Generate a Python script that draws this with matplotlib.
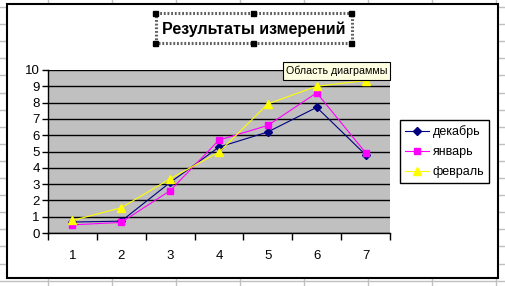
import matplotlib.pyplot as plt
import numpy as np
from matplotlib.patches import Rectangle

plt.rcParams["font.family"] = ["Liberation Sans", "DejaVu Sans"]

CATEGORIES = [1, 2, 3, 4, 5, 6, 7]
DEKABR = [0.67, 0.73, 3.1, 5.27, 6.2, 7.71, 4.8]
YANVAR = [0.5, 0.65, 2.6, 5.7, 6.6, 8.6, 4.93]
FEVRAL = [0.77, 1.55, 3.33, 4.96, 7.92, 9.0, 9.35]

SERIES = [
    ("декабрь", DEKABR, "#000080", "D", 4.5),
    ("январь", YANVAR, "#ff00ff", "s", 5),
    ("февраль", FEVRAL, "#ffff00", "^", 6),
]

W, H = 506, 286
fig = plt.figure(figsize=(W / 100, H / 100), dpi=100)
fig.patch.set_facecolor("white")

# background: spreadsheet cells + chart frame, in pixel coords
bg = fig.add_axes([0, 0, 1, 1])
bg.set_xlim(0, W)
bg.set_ylim(H, 0)
bg.axis("off")
for x in np.arange(48, W, 64):
    bg.plot([x, x], [0, H], color="#c0c0c0", lw=1, zorder=0)
for y in np.arange(7, H, 17.1):
    bg.plot([0, W], [y, y], color="#c0c0c0", lw=1, zorder=0)
bg.add_patch(Rectangle((7, 4), 491, 274, facecolor="white",
                       edgecolor="black", lw=1.5, zorder=1))

# title with selection box
bg.text(254, 29, "Результаты измерений", ha="center", va="center",
        fontsize=11.5, fontweight="bold", zorder=3)
bg.add_patch(Rectangle((156, 13), 196, 30, facecolor="none",
                       edgecolor="#606060", lw=2.2, linestyle=(0, (0.6, 0.6)),
                       zorder=3))
for hx, hy in [(156, 13), (254, 13), (352, 13), (156, 43), (254, 43),
               (352, 43)]:
    bg.add_patch(Rectangle((hx - 2.5, hy - 2.5), 5, 5, color="black",
                           zorder=4))

ax = fig.add_axes([48 / W, 1 - 233 / H, 342 / W, 163 / H], zorder=2)
ax.set_facecolor("#c0c0c0")
x = np.array(CATEGORIES)
for label, vals, color, marker, ms in SERIES:
    ax.plot(x, vals, color=color, lw=0.8, marker=marker, markersize=ms,
            markeredgecolor=color, markerfacecolor=color, label=label,
            zorder=3)

ax.set_xlim(0.5, 7.5)
ax.set_ylim(0, 10)
ax.set_yticks(range(0, 11))
ax.set_xticks(x)
ax.set_xticks(np.arange(0.5, 8, 1), minor=True)
ax.tick_params(axis="x", which="major", length=0, pad=12, labelsize=9.5)
ax.tick_params(axis="x", which="minor", length=5, width=1, direction="out")
ax.tick_params(axis="y", length=4, width=1, direction="out", pad=2,
               labelsize=9.5)
ax.grid(axis="y", color="black", lw=1)
ax.set_axisbelow(True)
for side in ["top", "right"]:
    ax.spines[side].set_visible(False)
for side in ["left", "bottom"]:
    ax.spines[side].set_color("black")
    ax.spines[side].set_linewidth(1)

leg = ax.legend(loc="upper left", bbox_to_anchor=(400 / W, 1 - 120 / H),
                bbox_transform=fig.transFigure, fontsize=9, frameon=True,
                fancybox=False, shadow=False, handlelength=1.9,
                borderpad=0.4, labelspacing=0.65, handletextpad=0.3,
                borderaxespad=0, markerscale=0.85)
leg.get_frame().set_edgecolor("black")
leg.get_frame().set_linewidth(1)
leg.get_frame().set_facecolor("white")
leg.get_frame().set_alpha(1)

# tooltip over the chart
tip = fig.add_axes([0, 0, 1, 1], zorder=5)
tip.set_xlim(0, W)
tip.set_ylim(H, 0)
tip.axis("off")
tip.add_patch(Rectangle((283, 62), 107, 18, facecolor="#ffffe1",
                        edgecolor="black", lw=0.8))
tip.text(286, 71, "Область диаграммы", ha="left", va="center", fontsize=7.7)

fig.savefig("out.png", dpi=100)
